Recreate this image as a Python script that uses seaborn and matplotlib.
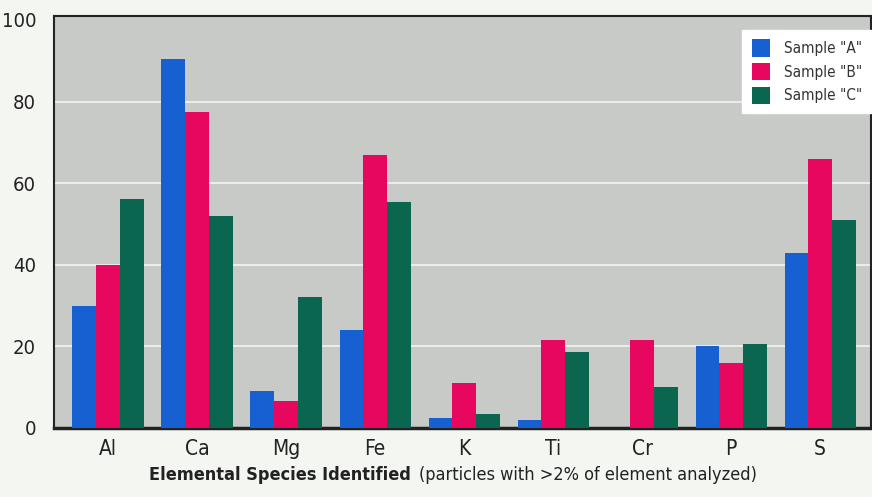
import matplotlib
matplotlib.use("Agg")
import matplotlib.pyplot as plt
import seaborn as sns
import pandas as pd

elements = ["Al", "Ca", "Mg", "Fe", "K", "Ti", "Cr", "P", "S"]
sample_a = [30, 90.5, 9, 24, 2.5, 2, 0, 20, 43]
sample_b = [40, 77.5, 6.5, 67, 11, 21.5, 21.5, 16, 66]
sample_c = [56, 52, 32, 55.5, 3.5, 18.5, 10, 20.5, 51]
series_names = ['Sample "A"', 'Sample "B"', 'Sample "C"']
y_ticks = [0, 20, 40, 60, 80, 100]

rows = []
for name, vals in zip(series_names, [sample_a, sample_b, sample_c]):
    for el, v in zip(elements, vals):
        rows.append({"Element": el, "Sample": name, "Value": v})
df = pd.DataFrame(rows)

sns.set_theme(style="white")
plt.rcParams["font.family"] = ["DejaVu Sans"]
plt.rcParams["font.stretch"] = "condensed"

fig = plt.figure(figsize=(8.72, 4.97), dpi=100, facecolor="#f4f6f2")
ax = fig.add_axes([0.062, 0.139, 0.937, 0.829])
ax.set_facecolor("#c7cac6")

palette = ["#1660d2", "#e8075f", "#0b6650"]
sns.barplot(data=df, x="Element", y="Value", hue="Sample", order=elements,
            hue_order=series_names, palette=palette, width=0.8, saturation=1,
            edgecolor="none", ax=ax, zorder=3)

ax.set_ylim(0, 101)
ax.set_xlim(-0.607, 8.573)
ax.set_yticks(y_ticks)
ax.set_yticklabels([str(t) for t in y_ticks], fontsize=14.5, color="#222222")
ax.tick_params(axis="y", length=0, pad=13)
ax.tick_params(axis="x", length=0, pad=8, labelsize=15, labelcolor="#222222")
for t in [20, 40, 60, 80]:
    ax.axhline(t, color="#f2f2f2", lw=1.2, zorder=1)
ax.set_xlabel("")
ax.set_ylabel("")
for side in ["left", "top", "right"]:
    ax.spines[side].set_color("#222222")
    ax.spines[side].set_linewidth(1.5)
ax.spines["bottom"].set_color("#222222")
ax.spines["bottom"].set_linewidth(2.5)

leg = ax.legend(loc="upper right", bbox_to_anchor=(1.0, 0.966), fontsize=11,
                frameon=True, fancybox=False, handlelength=1.2, handleheight=1.4,
                handletextpad=0.9, labelspacing=0.4, borderpad=0.6,
                borderaxespad=0.0)
leg.get_frame().set_facecolor("white")
leg.get_frame().set_edgecolor("white")
leg.get_frame().set_alpha(1)
for txt in leg.get_texts():
    txt.set_color("#333333")

fig.text(0.471, 0.027, "Elemental Species Identified", fontsize=13,
         fontweight="bold", ha="right", va="bottom", color="#222222")
fig.text(0.480, 0.027, "(particles with >2% of element analyzed)", fontsize=13,
         ha="left", va="bottom", color="#222222")

fig.savefig("out.png", dpi=100, facecolor=fig.get_facecolor())
